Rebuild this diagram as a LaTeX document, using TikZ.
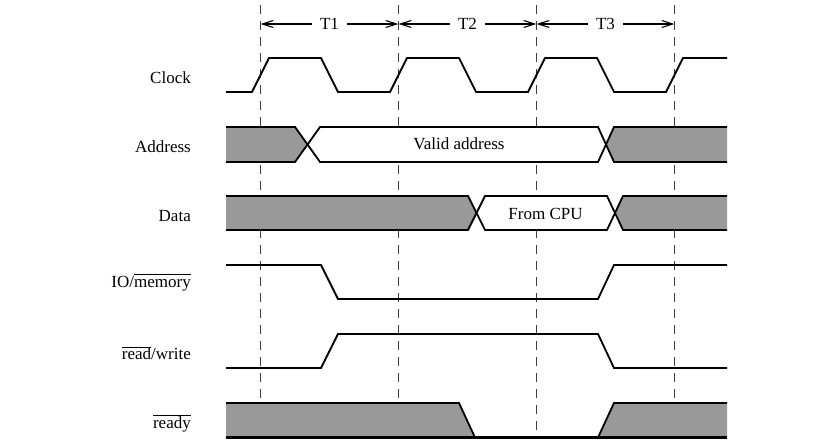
\documentclass[tikz,border=0pt]{standalone}
\usepackage{fontspec}
\setmainfont{Liberation Serif}
\usetikzlibrary{arrows.meta}

\newcommand{\sigfont}{\fontsize{17}{20}\selectfont}
\tikzset{
	signal/.style={line width=1.8pt, line join=miter},
	busfill/.style={fill=black!40},
	gridline/.style={black!75, line width=1.1pt, dash pattern=on 9pt off 7pt},
	period/.style={line width=1.1pt, {Straight Barb[length=11pt,width=7pt]}-{Straight Barb[length=11pt,width=7pt]}},
	siglabel/.style={anchor=base east, inner sep=0pt},
}

\begin{document}
\begin{tikzpicture}[x=1pt, y=-1pt, font=\sigfont]
	\useasboundingbox (0,0) rectangle (814,443);
	% Dashed period marks and T1, T2, T3:
	\draw[gridline] (260.5,5) -- (260.5,437);
	\draw[gridline] (398.5,5) -- (398.5,437);
	\draw[gridline] (536.5,5) -- (536.5,437);
	\draw[gridline] (674.5,5) -- (674.5,437);
	\coordinate (m0) at (260.5,24);
	\coordinate (m1) at (398.5,24);
	\coordinate (m2) at (536.5,24);
	\coordinate (m3) at (674.5,24);
	\draw[period] (m0) -- node[fill=white, inner xsep=8pt, inner ysep=1pt] (t1) {T1} (m1);
	\draw[period] (m1) -- node[fill=white, inner xsep=8pt, inner ysep=1pt] (t2) {T2} (m2);
	\draw[period] (m2) -- node[fill=white, inner xsep=8pt, inner ysep=1pt] (t3) {T3} (m3);

	% Signal names:
	\node[siglabel] (clk) at (191,84) {Clock};
	\node[siglabel] (addr) at (191,152.5) {Address};
	\node[siglabel] (data) at (191,221.5) {Data};
	\node[siglabel] (iomem) at (191,288) {IO/$\overline{\vphantom{d}\mbox{memory}}$};
	\node[siglabel] (rdwr) at (191,360) {$\overline{\mbox{read}}$/write};
	\node[siglabel] (rdy) at (191,428.5) {$\overline{\mbox{ready}}$};

	% Clock:
	\draw[signal] (226,92) -- (252,92) -- (269,58) -- (321,58) -- (338,92) -- (390,92) -- (407,58) -- (459,58) -- (476,92) -- (528,92) -- (545,58) -- (597,58) -- (614,92) -- (666,92) -- (683,58) -- (727,58);

	% Address bus:
	\fill[busfill] (226,127) -- (295,127) -- (307.5,144.5) -- (295,162) -- (226,162) -- cycle;
	\fill[white] (320,127) -- (307.5,144.5) -- (320,162) -- (598,162) -- (606,144.5) -- (598,127) -- cycle;
	\fill[busfill] (727,127) -- (614,127) -- (606,144.5) -- (614,162) -- (727,162) -- cycle;
	\draw[signal] (226,127) -- (295,127) -- (320,162) -- (598,162) -- (614,127) -- (727,127);
	\draw[signal] (226,162) -- (295,162) -- (320,127) -- (598,127) -- (614,162) -- (727,162);
	\node[anchor=base, inner sep=0pt] (valid) at (459,149.5) {Valid address};

	% Data bus:
	\fill[busfill] (226,196) -- (468,196) -- (476.5,213) -- (468,230) -- (226,230) -- cycle;
	\fill[white] (485,196) -- (476.5,213) -- (485,230) -- (607,230) -- (615,213) -- (607,196) -- cycle;
	\fill[busfill] (727,196) -- (623,196) -- (615,213) -- (623,230) -- (727,230) -- cycle;
	\draw[signal] (226,196) -- (468,196) -- (485,230) -- (607,230) -- (623,196) -- (727,196);
	\draw[signal] (226,230) -- (468,230) -- (485,196) -- (607,196) -- (623,230) -- (727,230);
	\node[anchor=base, inner sep=0pt] (fromcpu) at (545.5,220) {From CPU};

	% IO/memory and read/write:
	\draw[signal] (226,265) -- (321,265) -- (338,299) -- (598,299) -- (614,265) -- (727,265);
	\draw[signal] (226,368) -- (321,368) -- (338,334) -- (598,334) -- (614,368) -- (727,368);

	% ready:
	\fill[busfill] (226,403) -- (459,403) -- (475,437.5) -- (226,437.5) -- cycle;
	\fill[busfill] (598,437.5) -- (614,403) -- (727,403) -- (727,437.5) -- cycle;
	\draw[signal] (226,403) -- (459,403) -- (475,437.5);
	\draw[signal] (598,437.5) -- (614,403) -- (727,403);
	\draw[signal, line width=2.4pt] (226,437.5) -- (727,437.5);
\end{tikzpicture}
\end{document}
